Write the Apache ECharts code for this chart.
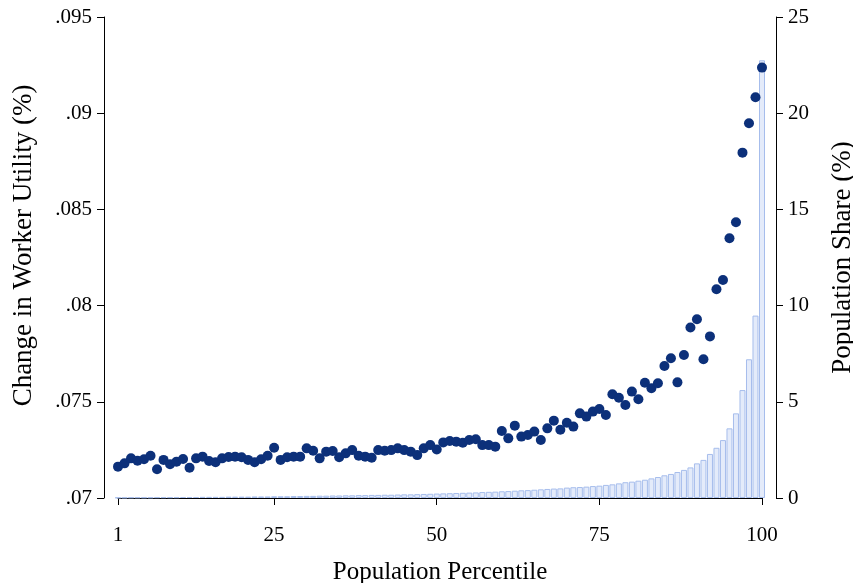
<!DOCTYPE html>
<html>
<head>
<meta charset="utf-8">
<title>Worker utility by population percentile</title>
<script src="https://cdn.jsdelivr.net/npm/echarts@6/dist/echarts.min.js"></script>
<style>
  html, body { margin: 0; padding: 0; background: #fff; }
  #main { width: 853px; height: 583px; }
</style>
</head>
<body>
<div id="main"></div>
<script>
// percentiles 1..100
var percentiles = [];
for (var i = 1; i <= 100; i++) percentiles.push(i);

// change in worker utility (%), left axis
var utility = [
  0.07163, 0.07180, 0.07206, 0.07194, 0.07201, 0.07220, 0.07149, 0.07198, 0.07175, 0.07189,
  0.07203, 0.07157, 0.07206, 0.07215, 0.07192, 0.07186, 0.07206, 0.07213, 0.07215, 0.07212,
  0.07198, 0.07186, 0.07201, 0.07220, 0.07261, 0.07198, 0.07212, 0.07215, 0.07215, 0.07258,
  0.07246, 0.07206, 0.07241, 0.07244, 0.07212, 0.07232, 0.07249, 0.07220, 0.07215, 0.07209,
  0.07249, 0.07246, 0.07249, 0.07258, 0.07249, 0.07241, 0.07223, 0.07258, 0.07275, 0.07252,
  0.07289, 0.07296, 0.07293, 0.07287, 0.07301, 0.07305, 0.07275, 0.07275, 0.07267, 0.07348,
  0.07310, 0.07376, 0.07319, 0.07327, 0.07345, 0.07301, 0.07362, 0.07402, 0.07355, 0.07391,
  0.07371, 0.07440, 0.07423, 0.07449, 0.07463, 0.07431, 0.07539, 0.07521, 0.07483, 0.07553,
  0.07513, 0.07599, 0.07570, 0.07596, 0.07686, 0.07726, 0.07601, 0.07743, 0.07886, 0.07929,
  0.07721, 0.07840, 0.08085, 0.08133, 0.08350, 0.08433, 0.08795, 0.08948, 0.09083, 0.09237
];

// population share (%), right axis
var share = [
  0.02, 0.02, 0.03, 0.03, 0.03, 0.03, 0.04, 0.04, 0.04, 0.04,
  0.05, 0.05, 0.05, 0.06, 0.06, 0.06, 0.06, 0.07, 0.07, 0.07,
  0.07, 0.08, 0.08, 0.08, 0.09, 0.09, 0.09, 0.10, 0.10, 0.11,
  0.11, 0.12, 0.12, 0.13, 0.13, 0.14, 0.14, 0.15, 0.15, 0.16,
  0.16, 0.17, 0.17, 0.18, 0.19, 0.19, 0.20, 0.21, 0.22, 0.23,
  0.24, 0.25, 0.26, 0.27, 0.28, 0.29, 0.31, 0.32, 0.33, 0.35,
  0.36, 0.38, 0.40, 0.41, 0.43, 0.45, 0.47, 0.49, 0.50, 0.54,
  0.56, 0.57, 0.59, 0.62, 0.64, 0.68, 0.71, 0.76, 0.82, 0.85,
  0.90, 0.95, 1.02, 1.09, 1.18, 1.25, 1.35, 1.46, 1.59, 1.80,
  1.98, 2.29, 2.61, 3.01, 3.62, 4.40, 5.61, 7.21, 9.48, 22.75
];

var xTicks = [1, 25, 50, 75, 100];
var leftTickLabels = ['.07', '.075', '.08', '.085', '.09', '.095'];

var scatterData = percentiles.map(function (p, i) { return [p, utility[i]]; });
var barData = percentiles.map(function (p, i) { return [p, share[i]]; });

var font = 'Liberation Serif';
var myChart = echarts.init(document.getElementById('main'));

var option = {
  backgroundColor: '#fff',
  animation: false,
  textStyle: { fontFamily: font },
  grid: { left: 118, right: 91, top: 17, bottom: 85, containLabel: false, outerBoundsMode: 'none' },
  xAxis: {
    type: 'value',
    min: 1,
    max: 100,
    offset: 12,
    name: 'Population Percentile',
    nameLocation: 'middle',
    nameGap: 50,
    nameTextStyle: { fontFamily: font, fontSize: 25, color: '#000' },
    axisLine: { show: true, lineStyle: { color: '#000', width: 1 } },
    axisTick: { show: true, length: 7, lineStyle: { color: '#000' }, customValues: xTicks },
    axisLabel: { fontFamily: font, fontSize: 21, color: '#000', margin: 15, customValues: xTicks },
    splitLine: { show: false }
  },
  yAxis: [
    {
      type: 'value',
      min: 0.07,
      max: 0.095,
      interval: 0.005,
      position: 'left',
      offset: 14,
      name: 'Change in Worker Utility (%)',
      nameLocation: 'middle',
      nameGap: 67,
      nameTextStyle: { fontFamily: font, fontSize: 27, color: '#000', padding: [0, 0, 0, 24] },
      axisLine: { show: true, lineStyle: { color: '#000', width: 1 } },
      axisTick: { show: true, length: 7, lineStyle: { color: '#000' } },
      axisLabel: {
        fontFamily: font, fontSize: 21, color: '#000', margin: 12,
        formatter: function (v) {
          var idx = Math.round((v - 0.07) / 0.005);
          return leftTickLabels[idx] || '';
        }
      },
      splitLine: { show: false }
    },
    {
      type: 'value',
      min: 0,
      max: 25,
      interval: 5,
      position: 'right',
      offset: 14,
      name: 'Population Share (%)',
      nameLocation: 'middle',
      nameGap: 53,
      nameTextStyle: { fontFamily: font, fontSize: 27, color: '#000' },
      axisLine: { show: true, lineStyle: { color: '#000', width: 1 } },
      axisTick: { show: true, length: 7, lineStyle: { color: '#000' } },
      axisLabel: { fontFamily: font, fontSize: 21, color: '#000', margin: 12 },
      splitLine: { show: false }
    }
  ],
  series: [
    {
      name: 'Population Share',
      type: 'bar',
      yAxisIndex: 1,
      barWidth: 6,
      data: barData,
      itemStyle: { color: '#e4ebfa', borderColor: '#a6bdec', borderWidth: 1 },
      z: 1
    },
    {
      name: 'Change in Worker Utility',
      type: 'scatter',
      yAxisIndex: 0,
      symbolSize: 10,
      data: scatterData,
      itemStyle: { color: '#0c307a', opacity: 1 },
      z: 3
    }
  ]
};
myChart.setOption(option);
</script>
</body>
</html>
